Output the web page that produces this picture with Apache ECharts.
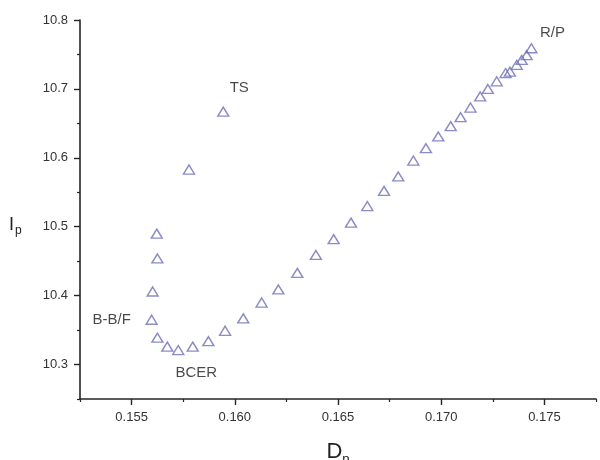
<!DOCTYPE html>
<html>
<head>
<meta charset="utf-8">
<script src="https://cdn.jsdelivr.net/npm/echarts@6/dist/echarts.min.js"></script>
<style>html,body{margin:0;padding:0;background:#fff;overflow:hidden}#c{width:600px;height:460px}</style>
</head>
<body>
<div id="c"></div>
<script>
// Data
const dpValues = [0.15944, 0.15778, 0.15622, 0.15625, 0.15602, 0.15597, 0.15625, 0.15673, 0.15726, 0.15796, 0.15872, 0.15953, 0.16041, 0.16130, 0.16211, 0.16303, 0.16393, 0.16479, 0.16563, 0.16642, 0.16723, 0.16792, 0.16865, 0.16926, 0.16986, 0.17046, 0.17094, 0.17142, 0.17189, 0.17226, 0.17269, 0.17312, 0.17333, 0.17366, 0.17390, 0.17414, 0.17437];
const ipValues = [10.667, 10.583, 10.490, 10.454, 10.406, 10.365, 10.339, 10.326, 10.321, 10.326, 10.334, 10.349, 10.367, 10.390, 10.409, 10.433, 10.459, 10.482, 10.506, 10.530, 10.552, 10.573, 10.596, 10.614, 10.631, 10.646, 10.659, 10.673, 10.689, 10.700, 10.711, 10.723, 10.725, 10.735, 10.742, 10.749, 10.759];
const pointNames = ['TS', '', '', '', '', 'B-B/F', '', '', 'BCER', '', '', '', '', '', '', '', '', '', '', '', '', '', '', '', '', '', '', '', '', '', '', '', '', '', '', '', 'R/P'];
const xMajorTicks = [0.155, 0.160, 0.165, 0.170, 0.175];
const xMinorTicks = [0.1525, 0.1575, 0.1625, 0.1675, 0.1725, 0.1775];
const yMajorTicks = [10.3, 10.4, 10.5, 10.6, 10.7, 10.8];
const yMinorTicks = [10.25, 10.35, 10.45, 10.55, 10.65, 10.75];

const labelOffsets = { 'TS': [16, -24], 'R/P': [21, -15], 'B-B/F': [-40, 0], 'BCER': [18, 23] };

const markerColor = '#6e6eb6';
const axisColor = '#262626';
const font = 'Liberation Sans, Arial, sans-serif';
const data = dpValues.map((x, i) => {
  const item = { value: [x, ipValues[i]] };
  const n = pointNames[i];
  if (n) {
    item.label = { show: true, formatter: n, position: 'inside', offset: labelOffsets[n],
      color: '#1a1a1a', fontSize: 15, fontFamily: font };
  }
  return item;
});

const chart = echarts.init(document.getElementById('c'), null, { renderer: 'canvas' });
chart.setOption({
  animation: false,
  backgroundColor: '#fff',
  grid: { left: 80, right: 4, top: 20, bottom: 61, containLabel: false, outerBoundsMode: 'none' },
  xAxis: [
    {
      type: 'value', min: 0.1525, max: 0.1775, position: 'bottom',
      axisLine: { show: true, onZero: false, lineStyle: { color: axisColor, width: 1.6 } },
      axisTick: { show: true, customValues: xMajorTicks, length: 6, lineStyle: { color: axisColor, width: 1.4 } },
      axisLabel: { customValues: xMajorTicks, formatter: v => v.toFixed(3), fontSize: 13, color: '#333', margin: 12, fontFamily: font },
      splitLine: { show: false },
      name: '{a|D}{b|p}', nameLocation: 'middle', nameGap: 42,
      nameTextStyle: { fontFamily: font, color: '#222',
        rich: { a: { fontSize: 22, lineHeight: 22, verticalAlign: 'top', fontFamily: font, color: '#222' },
                b: { fontSize: 13, lineHeight: 13, padding: [12, 0, 0, 0], verticalAlign: 'top', fontFamily: font, color: '#222' } } }
    },
    {
      type: 'value', min: 0.1525, max: 0.1775, position: 'bottom', gridIndex: 0,
      axisLine: { show: false },
      axisTick: { show: true, customValues: xMinorTicks, length: 3, lineStyle: { color: axisColor, width: 1.2 } },
      axisLabel: { show: false },
      splitLine: { show: false }
    }
  ],
  yAxis: [
    {
      type: 'value', min: 10.25, max: 10.8, position: 'left',
      axisLine: { show: true, onZero: false, lineStyle: { color: axisColor, width: 1.6 } },
      axisTick: { show: true, customValues: yMajorTicks, length: 6, lineStyle: { color: axisColor, width: 1.4 } },
      axisLabel: { customValues: yMajorTicks, formatter: v => v.toFixed(1), fontSize: 13, color: '#333', margin: 12, fontFamily: font },
      splitLine: { show: false }
    },
    {
      type: 'value', min: 10.25, max: 10.8, position: 'left', gridIndex: 0,
      axisLine: { show: false },
      axisTick: { show: true, customValues: yMinorTicks, length: 3, lineStyle: { color: axisColor, width: 1.2 } },
      axisLabel: { show: false },
      splitLine: { show: false }
    }
  ],
  graphic: [{
    type: 'text', left: 9, top: 216,
    style: { text: '{a|I}{b|p}', font: '18px ' + font, fill: '#222',
      rich: { a: { fontSize: 18, lineHeight: 18, verticalAlign: 'top', fontFamily: font, fill: '#222' },
              b: { fontSize: 12, lineHeight: 12, padding: [9, 0, 0, 1], verticalAlign: 'top', fontFamily: font, fill: '#222' } } }
  }],
  series: [{
    type: 'scatter', xAxisIndex: 0, yAxisIndex: 0,
    symbol: 'triangle', symbolSize: [11, 9],
    itemStyle: { color: 'rgba(255,255,255,0)', borderColor: markerColor, borderWidth: 1.4 },
    data: data
  }]
});
</script>
</body>
</html>
